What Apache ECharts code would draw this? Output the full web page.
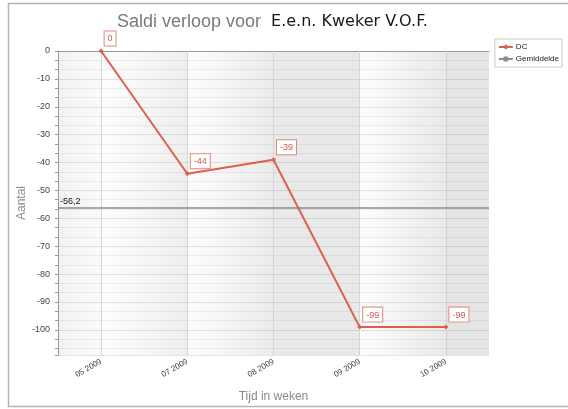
<!DOCTYPE html>
<html>
<head>
<meta charset="utf-8">
<script src="https://cdn.jsdelivr.net/npm/echarts@6/dist/echarts.min.js"></script>
<style>html,body{margin:0;padding:0;background:#fff}#c{width:568px;height:409px}</style>
</head>
<body>
<div id="c"></div>
<script>
var CATEGORIES = ['05 2009', '07 2009', '08 2009', '09 2009', '10 2009'];
var DC_VALUES = [0, -44, -39, -99, -99];
var AVERAGE = -56.2;
var AVERAGE_LABEL = '-56,2';
var Y_MIN = -109;
var Y_MAX = 0;
var MINOR_PER_CAT = 5;

var nCat = CATEGORIES.length;
var minorSlots = [];
for (var i = 0; i < nCat * MINOR_PER_CAT; i++) minorSlots.push('');

function grad(c0, c1) {
  return new echarts.graphic.LinearGradient(0, 0, 1, 0, [{offset: 0, color: c0}, {offset: 1, color: c1}]);
}
// half-category background strips (helper axis: category i spans [2i, 2i+2])
var STRIP_FILLS = [
  grad('#f3f3f3', '#fafafa'),
  grad('#fefefe', '#f6f6f6'), grad('#f6f6f6', '#eeeeee'),
  grad('#fdfdfd', '#f4f4f4'), grad('#f4f4f4', '#ebebeb'),
  '#e9e9e9', '#e9e9e9',
  grad('#fdfdfd', '#f3f3f3'), grad('#f3f3f3', '#e9e9e9'),
  '#e5e5e5'
];

var chart = echarts.init(document.getElementById('c'), null, {renderer: 'canvas'});
var option = {
  animation: false,
  backgroundColor: '#fff',
  title: {
    text: '{a|Saldi verloop voor}  {b|E.e.n. Kweker V.O.F.}',
    left: 112, top: 8,
    textStyle: {
      fontWeight: 'normal',
      rich: {
        a: {fontFamily: 'Liberation Sans', fontSize: 18, fontWeight: 'normal', color: '#7a7a7a'},
        b: {fontFamily: 'DejaVu Sans', fontSize: 16, fontWeight: 'normal', color: '#1a1a1a'}
      }
    }
  },
  graphic: [{
    type: 'rect', silent: true,
    shape: {x: 8.5, y: 3.5, width: 580, height: 403},
    style: {fill: 'none', stroke: '#b4b4b4', lineWidth: 1.5}
  }],
  legend: {
    right: 6, top: 39, orient: 'vertical',
    itemWidth: 14, itemHeight: 7, itemGap: 4,
    padding: [4, 3, 4, 3],
    borderColor: '#c8c8c8', borderWidth: 1, backgroundColor: '#fff',
    textStyle: {fontFamily: 'Liberation Sans', fontSize: 8, color: '#222', padding: [0, 0, 0, -2]},
    data: ['DC', 'Gemiddelde']
  },
  grid: {left: 58, top: 51, right: 79, bottom: 54, show: true, borderWidth: 0, backgroundColor: '#f2f2f2'},
  xAxis: [{
    type: 'category', data: CATEGORIES, boundaryGap: true,
    name: 'Tijd in weken', nameLocation: 'middle', nameGap: 36,
    nameTextStyle: {fontFamily: 'Liberation Sans', fontSize: 12, color: '#8a8a8a'},
    axisLine: {lineStyle: {color: '#9a9a9a'}},
    axisTick: {alignWithLabel: true, length: 3, lineStyle: {color: '#9a9a9a'}},
    axisLabel: {rotate: 30, fontFamily: 'Liberation Sans', fontSize: 8, color: '#444', margin: 6},
    splitLine: {show: false},
    z: 4
  }, {
    type: 'category', data: minorSlots, boundaryGap: true, position: 'bottom',
    axisLine: {show: false}, axisLabel: {show: false},
    axisTick: {alignWithLabel: true, interval: 0, length: 2, lineStyle: {color: '#9a9a9a'}},
    splitLine: {show: false}
  }, {
    type: 'value', min: 0, max: 2 * nCat, interval: 1, position: 'top',
    axisLine: {show: false}, axisTick: {show: false}, axisLabel: {show: false},
    splitLine: {show: false},
    splitArea: {show: true, areaStyle: {color: STRIP_FILLS}},
    z: 0
  }],
  yAxis: {
    type: 'value', min: Y_MIN, max: Y_MAX, splitNumber: 11,
    name: 'Aantal', nameLocation: 'middle', nameGap: 30, nameMoveOverlap: false,
    nameTextStyle: {fontFamily: 'Liberation Sans', fontSize: 12, color: '#8a8a8a'},
    axisLine: {show: true, lineStyle: {color: '#9a9a9a'}},
    axisTick: {show: true, length: 3, lineStyle: {color: '#9a9a9a'}},
    minorTick: {show: true, splitNumber: 3, length: 3, lineStyle: {color: '#9a9a9a'}},
    axisLabel: {showMinLabel: false, fontFamily: 'Liberation Sans', fontSize: 9, color: '#444', margin: 8},
    splitLine: {show: true, lineStyle: {color: 'rgba(0,0,0,0.1)'}},
    minorSplitLine: {show: true, lineStyle: {color: 'rgba(0,0,0,0.06)'}},
    z: 3
  },
  series: [{
    name: 'DC', type: 'line', data: DC_VALUES,
    symbol: 'diamond', symbolSize: 5,
    itemStyle: {color: '#de5f4b'},
    lineStyle: {color: '#de5f4b', width: 2},
    label: {
      show: true, position: [6, -17], align: 'left', verticalAlign: 'top',
      fontFamily: 'Liberation Sans', fontSize: 9, color: '#d25a46',
      backgroundColor: '#fff', borderColor: '#e08a7c', borderWidth: 1,
      padding: [3, 3, 2, 3]
    },
    markLine: {
      silent: true, symbol: 'none', label: {show: false},
      lineStyle: {color: '#d4d4d4', width: 1, type: 'solid'},
      data: CATEGORIES.map(function (c) { return {xAxis: c}; })
    },
    z: 5
  }, {
    name: 'Gemiddelde', type: 'line', data: [], symbol: 'none',
    itemStyle: {color: '#8c8c8c'},
    lineStyle: {color: '#8c8c8c', width: 1.5},
    markLine: {
      silent: true, symbol: 'none',
      lineStyle: {color: '#8c8c8c', width: 1.5, type: 'solid'},
      label: {position: 'insideStartTop', formatter: AVERAGE_LABEL, distance: [2, 2],
        fontFamily: 'Liberation Sans', fontSize: 9, color: '#111'},
      data: [{yAxis: AVERAGE}]
    }
  }]
};
chart.setOption(option);
</script>
</body>
</html>
